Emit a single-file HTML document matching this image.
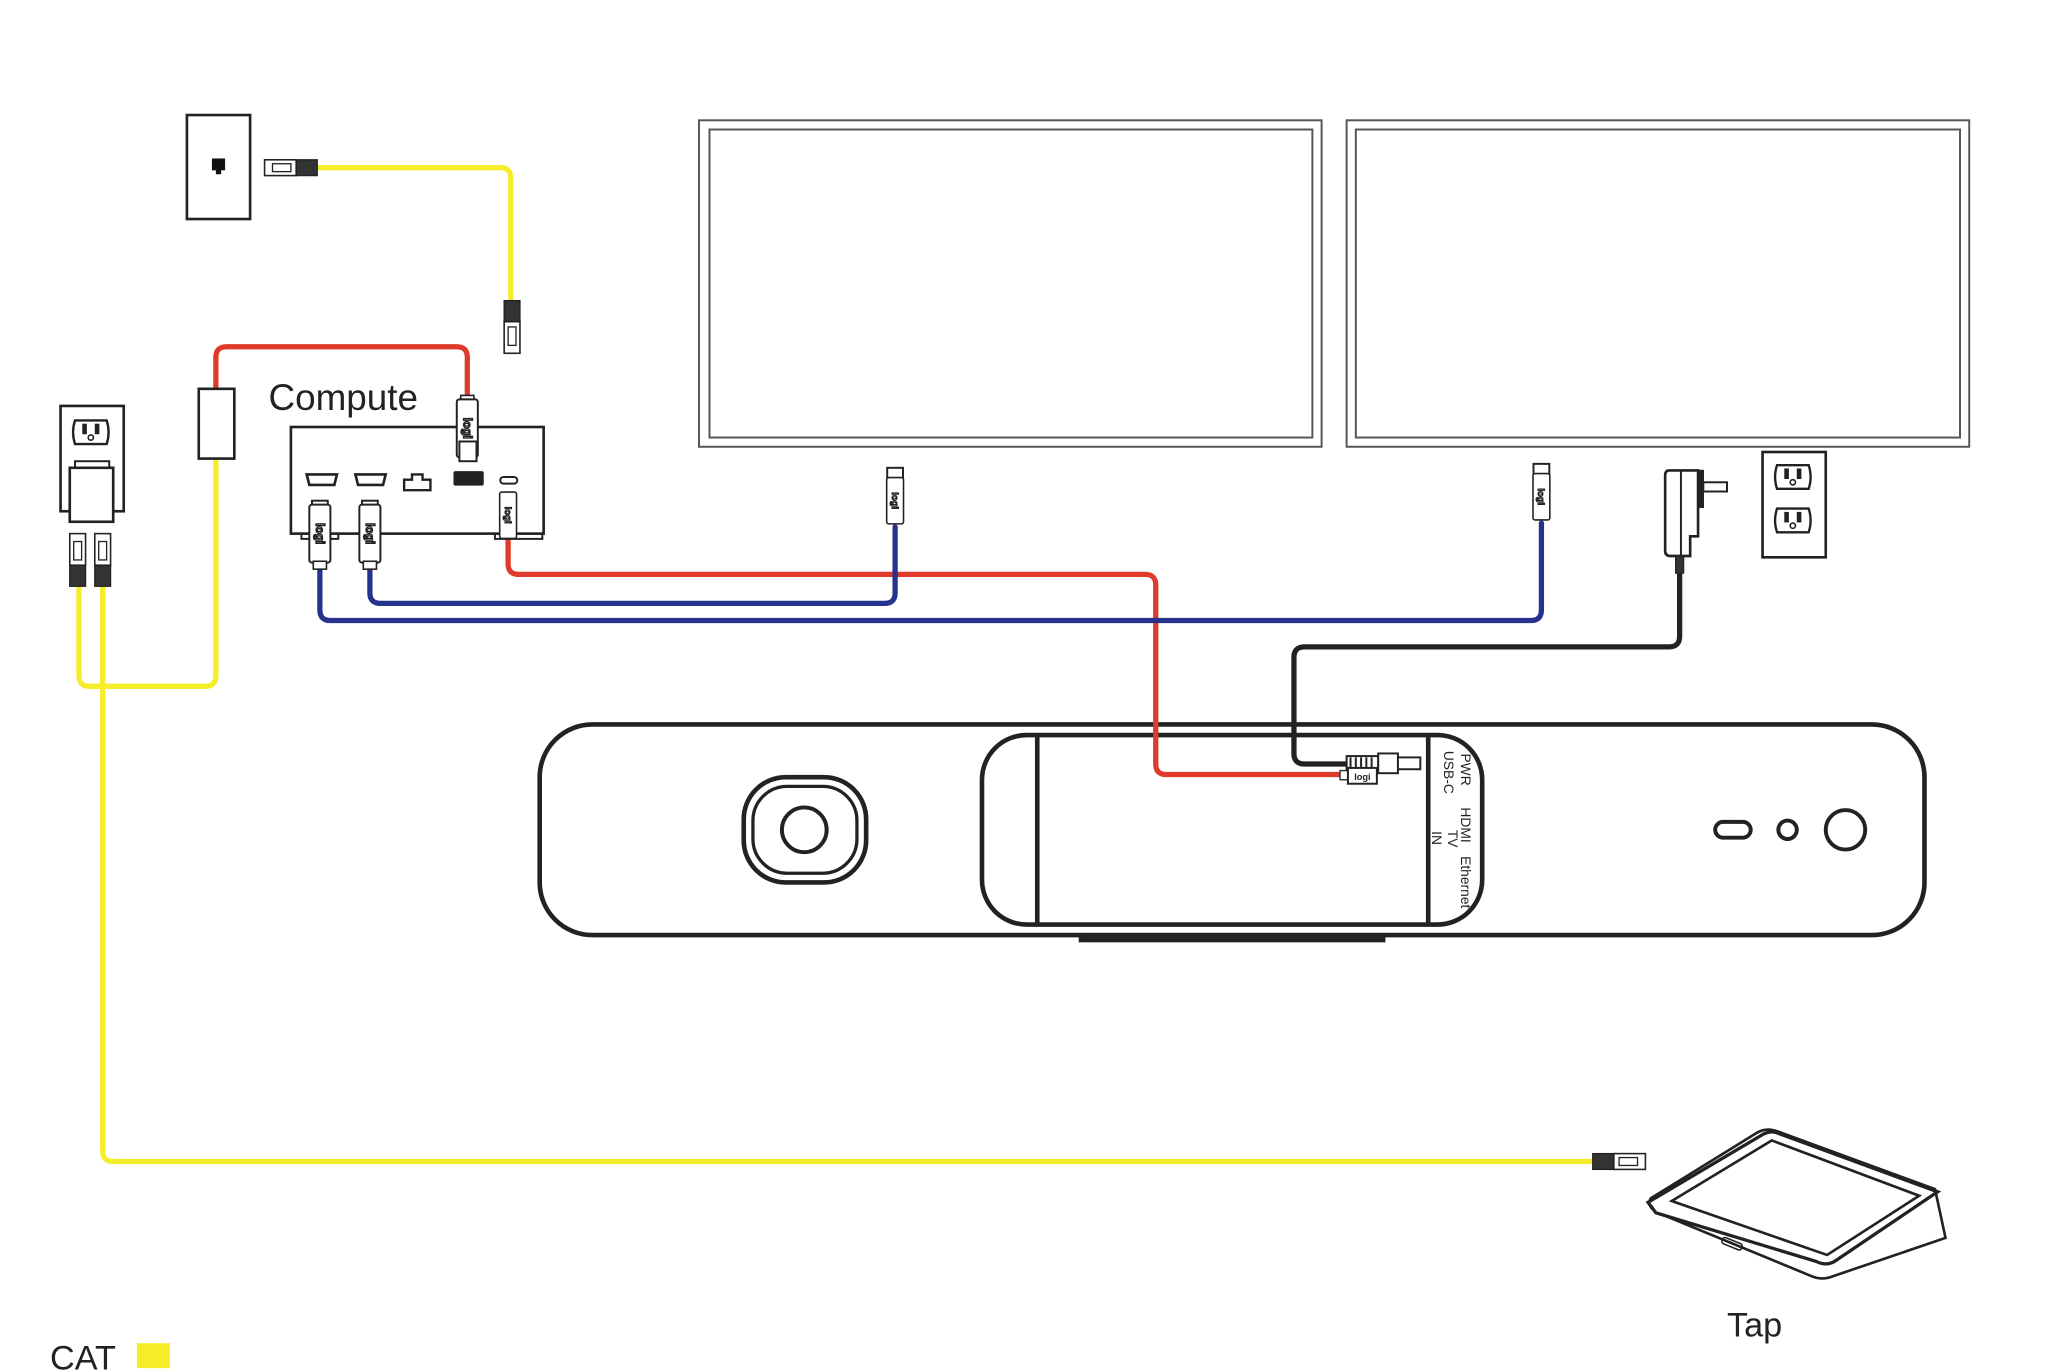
<!DOCTYPE html>
<html><head><meta charset="utf-8"><style>html,body{margin:0;padding:0;background:#fff}svg{display:block}</style></head>
<body>
<svg width="2064" height="1370" viewBox="0 0 1568 1040" xmlns="http://www.w3.org/2000/svg" font-family="Liberation Sans, sans-serif">
<defs>
<g id="logi">
<rect x="-8" y="-22" width="16" height="44" rx="2" fill="#fff" stroke="#222" stroke-width="1.5"/>
<text x="0" y="0" font-size="9" font-weight="bold" transform="rotate(90)" text-anchor="middle" dy="3">logi</text>
</g>
<g id="rj">
<rect x="-6" y="0" width="12" height="16" fill="#333"/>
<rect x="-6" y="16" width="12" height="24" fill="#fff" stroke="#222" stroke-width="1.2"/>
<rect x="-3" y="20" width="6" height="14" fill="none" stroke="#222" stroke-width="1"/>
</g>
<g id="outlet">
<path d="M-12,-9 h24 q3,9 0,18 h-24 q-3,-9 0,-18z" fill="#fff" stroke="#222" stroke-width="1.8"/>
<rect x="-6" y="-6" width="2.5" height="7" fill="#222"/><rect x="3.5" y="-6" width="2.5" height="7" fill="#222"/>
<circle cx="0" cy="4" r="2" fill="none" stroke="#222" stroke-width="1.2"/>
</g>
</defs>
<!-- bar (drawn first so cables show on top) -->
<g fill="none" stroke="#222">
<rect x="410" y="550" width="1052" height="160" rx="40" stroke-width="3.5" fill="#fff"/>
<rect x="746" y="558" width="380" height="144" rx="34" stroke-width="3.5"/>
<line x1="788" y1="558" x2="788" y2="702" stroke-width="3.5"/>
<line x1="1085" y1="558" x2="1085" y2="702" stroke-width="3.5"/>
<rect x="820" y="712" width="232" height="3" fill="#222" stroke-width="1"/>
<rect x="565" y="590" width="93" height="80" rx="32" stroke-width="3.5"/>
<rect x="572" y="597" width="79" height="66" rx="26" stroke-width="2.5"/>
<circle cx="611" cy="630" r="17" stroke-width="3"/>
<rect x="1303" y="624" width="27" height="12" rx="6" stroke-width="3"/>
<circle cx="1358" cy="630" r="7" stroke-width="3"/>
<circle cx="1402" cy="630" r="15" stroke-width="3"/>
</g>
<g fill="none" stroke-linecap="round" stroke-linejoin="round">
<path d="M241,127 H380 Q388,127 388,135 V228" stroke="#f7ec2a" stroke-width="4"/>
<path d="M164,348 V513 Q164,521 156,521 H68 Q60,521 60,513 V445" stroke="#f7ec2a" stroke-width="4"/>
<path d="M78,445 V874 Q78,882 86,882 H1210" stroke="#f7ec2a" stroke-width="4"/>
<path d="M164,295 V271 Q164,263 172,263 H347 Q355,263 355,271 V305" stroke="#e03a2a" stroke-width="4"/>
<path d="M386,405 V428 Q386,436 394,436 H870 Q878,436 878,444 V580 Q878,588 886,588 H1020" stroke="#e03a2a" stroke-width="4"/>
<path d="M243,425 V463 Q243,471 251,471 H1163 Q1171,471 1171,463 V397" stroke="#25338c" stroke-width="4"/>
<path d="M281,425 V450 Q281,458 289,458 H672 Q680,458 680,450 V400" stroke="#25338c" stroke-width="4"/>
<path d="M1276,435 V483 Q1276,491 1268,491 H991 Q983,491 983,499 V572 Q983,580 991,580 H1023" stroke="#222" stroke-width="4"/>
</g>
<g fill="none" stroke="#222">
<rect x="142" y="87" width="48" height="79" stroke-width="2" fill="#fff"/>
<rect x="161" y="120" width="10" height="9" fill="#111" stroke="none"/><rect x="164" y="128" width="4" height="4" fill="#111" stroke="none"/>
<g transform="translate(241,127) rotate(90)"><use href="#rj"/></g>
<g transform="translate(389,228)"><use href="#rj"/></g>
<g transform="translate(1210,882) rotate(-90)"><use href="#rj"/></g>
<g transform="translate(59,445) rotate(180)"><use href="#rj"/></g>
<g transform="translate(78,445) rotate(180)"><use href="#rj"/></g>
<rect x="151" y="295" width="27" height="53" stroke-width="2" fill="#fff"/>
<rect x="46" y="308" width="48" height="80" stroke-width="2" fill="#fff"/>
<g transform="translate(69,328)"><use href="#outlet"/></g>
<rect x="57" y="350" width="26" height="6" stroke-width="1.5" fill="#fff"/>
<rect x="53" y="355" width="33" height="41" stroke-width="2" fill="#fff"/>
<rect x="221" y="324" width="192" height="81" stroke-width="2" fill="#fff"/>
<rect x="229" y="405" width="28" height="4" stroke-width="1.5"/>
<rect x="376" y="405" width="36" height="4" stroke-width="1.5"/>
<path d="M233,360 h23 l-2,8 h-19z" stroke-width="2"/><path d="M270,360 h23 l-2,8 h-19z" stroke-width="2"/>
<path d="M307,372 v-8 h6 v-4 h8 v4 h6 v8z" stroke-width="1.8"/>
<rect x="345" y="358" width="22" height="10" rx="1" fill="#222"/>
<rect x="380" y="362" width="13" height="5" rx="2.5" stroke-width="1.5"/>
<rect x="237" y="380" width="12" height="14" stroke-width="1.5" fill="#fff"/>
<g transform="translate(243,405)"><use href="#logi"/></g>
<rect x="238" y="426" width="10" height="6" stroke-width="1.2" fill="#fff"/>
<rect x="275" y="380" width="12" height="14" stroke-width="1.5" fill="#fff"/>
<g transform="translate(281,405)"><use href="#logi"/></g>
<rect x="276" y="426" width="10" height="6" stroke-width="1.2" fill="#fff"/>
<rect x="383" y="374" width="6" height="6" stroke-width="1" fill="#fff"/>
<g transform="translate(386,391) scale(0.8)"><use href="#logi"/></g>
<rect x="350" y="300" width="10" height="6" stroke-width="1.2" fill="#fff"/>
<g transform="translate(355,325)"><use href="#logi"/></g>
<rect x="349" y="335" width="13" height="15" stroke-width="1.5" fill="#fff"/>
<rect x="531" y="91" width="473" height="248" stroke-width="1.5" stroke="#555"/>
<rect x="539" y="98" width="458" height="234" stroke-width="1.5" stroke="#555"/>
<rect x="1023" y="91" width="473" height="248" stroke-width="1.5" stroke="#555"/>
<rect x="1030" y="98" width="459" height="234" stroke-width="1.5" stroke="#555"/>
<rect x="674" y="355" width="12" height="12" stroke-width="1.5" fill="#fff"/>
<g transform="translate(680,380) scale(0.8)"><use href="#logi"/></g>
<rect x="1165" y="352" width="12" height="12" stroke-width="1.5" fill="#fff"/>
<g transform="translate(1171,377) scale(0.8)"><use href="#logi"/></g>
<path d="M1268,357 h22 v50 h-6 v15 h-15 q-4,0 -4,-4 v-57 q0,-4 3,-4z" stroke-width="2" fill="#fff"/>
<line x1="1277" y1="357" x2="1277" y2="422" stroke-width="1.5"/>
<rect x="1290" y="357" width="4" height="28" fill="#222"/>
<rect x="1294" y="366" width="18" height="7" stroke-width="1.5" fill="#fff"/>
<rect x="1273" y="422" width="6" height="13" fill="#333"/>
<rect x="1339" y="343" width="48" height="80" stroke-width="2" fill="#fff"/>
<g transform="translate(1362,362)"><use href="#outlet"/></g>
<g transform="translate(1362,395)"><use href="#outlet"/></g>
<rect x="1023" y="574" width="24" height="11" fill="#fff" stroke-width="1.5"/>
<path d="M1026,575 v9 M1030,575 v9 M1034,575 v9 M1038,575 v9 M1042,575 v9" stroke-width="1.5"/>
<rect x="1047" y="572" width="15" height="15" fill="#fff" stroke-width="1.5"/>
<rect x="1062" y="575" width="17" height="9" fill="#fff" stroke-width="1.5"/>
<rect x="1018" y="585" width="6" height="7" fill="#fff" stroke-width="1"/>
<rect x="1024" y="583" width="22" height="12" fill="#fff" stroke-width="1.5"/>
<text x="1035" y="592" font-size="7" font-weight="bold" fill="#222" stroke="none" text-anchor="middle">logi</text>
<path d="M1254,910 L1335,860 Q1342,856 1350,859 L1470,903 L1478,940 L1390,970 Q1383,972 1376,969 L1262,922 Q1250,917 1254,910z" stroke-width="2" fill="#fff"/>
<path d="M1252,913 L1340,861 Q1346,858 1352,861 L1472,905 L1395,957 Q1388,962 1380,958 L1258,921z" stroke-width="2.5" fill="#fff"/>
<path d="M1270,912 L1346,866 L1458,908 L1388,953z" stroke-width="2"/>
<rect x="1308" y="942" width="16" height="5" rx="2" stroke-width="1.2" transform="rotate(22 1316 944)"/>
</g>
<g fill="#222" stroke="none">
<text x="204" y="311" font-size="28">Compute</text>
<text x="1312" y="1015" font-size="26">Tap</text>
<text x="38" y="1040" font-size="26">CAT</text>
<g font-size="10.5">
<text transform="translate(1110,572) rotate(90)">PWR</text>
<text transform="translate(1097,570) rotate(90)">USB-C</text>
<text transform="translate(1110,613) rotate(90)">HDMI</text>
<text transform="translate(1100,630) rotate(90)">TV</text>
<text transform="translate(1088,631) rotate(90)">IN</text>
<text transform="translate(1110,650) rotate(90)">Ethernet</text>
</g>
</g>
<rect x="104" y="1020" width="25" height="19" fill="#f7ec2a"/>
</svg>
</body></html>
